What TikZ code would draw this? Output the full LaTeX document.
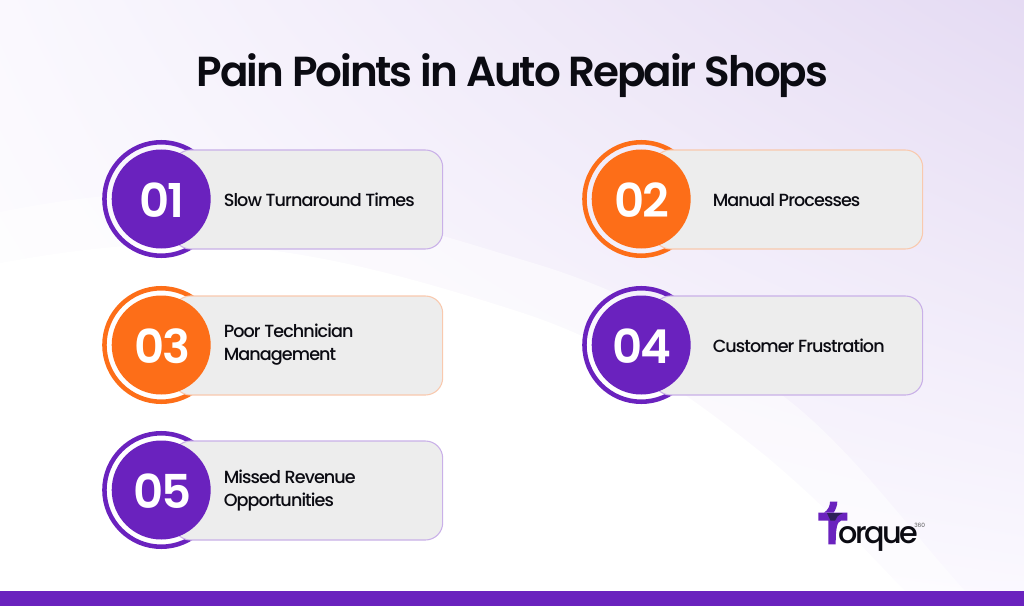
\documentclass[tikz,border=0pt]{standalone}
\usepackage{fontspec}
\setmainfont{Poppins}
\newfontfamily\medf{Poppins Medium}[LetterSpace=-5.2]
\newfontfamily\semif{Poppins SemiBold}[LetterSpace=-4.1]
\newfontfamily\titlef{Poppins SemiBold}[LetterSpace=-4.9]
\newfontfamily\logof{Poppins Medium}[LetterSpace=-8]
\definecolor{vio}{HTML}{6A22BE}
\definecolor{org}{HTML}{FD6E18}
\definecolor{violt}{HTML}{C9B0E8}
\definecolor{orglt}{HTML}{F9C9AE}
\definecolor{boxg}{HTML}{EDEDED}
\definecolor{txt}{HTML}{0B0B12}
\definecolor{bgul}{HTML}{FAF8FE}
\definecolor{bgur}{HTML}{E5DBF3}
\definecolor{bgll}{HTML}{FFFFFF}
\definecolor{bglr}{HTML}{FBF9FF}
\definecolor{logod}{HTML}{2E2158}
\usetikzlibrary{calc,shadings}
\tikzset{
  ringc/.style={draw=#1,line width=3.4pt,fill=none},
  boxc/.style={draw=#1,line width=0.8pt,fill=boxg,rounded corners=13pt},
  disc/.style={circle,fill=#1,minimum size=74.25pt,inner sep=0pt,font=\semif\fontsize{35}{35}\selectfont,text=white},
  numtext/.style={inner sep=0pt,font=\semif\fontsize{35}{35}\selectfont,text=white},
  itemtext/.style={anchor=west,align=left,inner sep=0pt,font=\medf\fontsize{13.2}{17.3}\selectfont,text=txt},
}
\newcommand{\itemrow}[6]{%
  \draw[ringc=#3] (#1,#2) circle (42.56pt);
  \path[boxc=#4] (#1+12,#2-49) rectangle (#1+281.5,#2+50);
  \node[disc=#3] (n#5) at (#1,#2) {};
  \node[numtext] (d#5) at (#1+1,#2+1) {#5};
  #6
}
\begin{document}
\begin{tikzpicture}[x=0.75pt,y=-0.75pt]
\useasboundingbox (0,0) rectangle (1024,606);
\shade[upper left=bgul,upper right=bgur,lower left=bgll,lower right=bglr] (0,0) rectangle (1024,606);
% soft outer band
\fill[white,opacity=.5] (0,212) .. controls (60,200) and (120,192) .. (190,192)
  .. controls (310,192) and (430,232) .. (533,263)
  .. controls (640,295) and (720,345) .. (797,407)
  .. controls (860,460) and (910,530) .. (965,591) -- (0,591) -- cycle;
% white swoosh
\fill[white] (0,263) .. controls (60,252) and (120,244) .. (180,244)
  .. controls (300,244) and (420,280) .. (523,313)
  .. controls (620,345) and (690,395) .. (767,457)
  .. controls (830,510) and (870,555) .. (905,591) -- (0,591) -- cycle;
\fill[vio] (0,591) rectangle (1024,606);
\node[font=\titlef\fontsize{31.5}{36}\selectfont,text=txt] (title) at (512.5,76) {Pain Points in Auto Repair Shops};
\itemrow{161.2}{199}{vio}{violt}{01}{\node[itemtext] (t1) at (223.5,199.5) {Slow Turnaround Times};}
\itemrow{641.2}{199}{org}{orglt}{02}{\node[itemtext] (t2) at (712.5,200) {Manual Processes};}
\itemrow{161.2}{345}{org}{orglt}{03}{\node[itemtext] (t3) at (223.5,344.5) {Poor Technician\\Management};}
\itemrow{641.2}{345}{vio}{violt}{04}{\node[itemtext] (t4) at (712.5,345.5) {Customer Frustration};}
\itemrow{161.2}{490}{vio}{violt}{05}{\node[itemtext] (t5) at (223.5,490.5) {Missed Revenue\\Opportunities};}
% logo
\fill[vio] (818.3,512.7) -- (847.3,512.7) -- (847.3,520.7) -- (841,520.7) .. controls (837,522) and (835.7,528) .. (835.7,544.3) -- (828.3,544.3) -- (828.3,520.7) -- (818.3,520.7) -- cycle;
\fill[vio] (824,512.7) .. controls (828,510) and (830,506) .. (830,501.7) -- (837.3,501.7) .. controls (837.3,506) and (835.5,510) .. (833.5,512.7) -- cycle;
\fill[logod] (827,513) -- (843,513) .. controls (838,515) and (836,517.5) .. (835,520.7) -- (830.5,520.7) -- cycle;
\node[anchor=base west,inner sep=0pt,font=\logof\fontsize{22.7}{23}\selectfont,text=txt] (logo) at (838,543.3) {orque};
\node[anchor=west,inner sep=0pt,font=\fontsize{4.4}{5}\selectfont,text=black!65] (logob) at (914,525.5) {360};
\end{tikzpicture}
\end{document}
